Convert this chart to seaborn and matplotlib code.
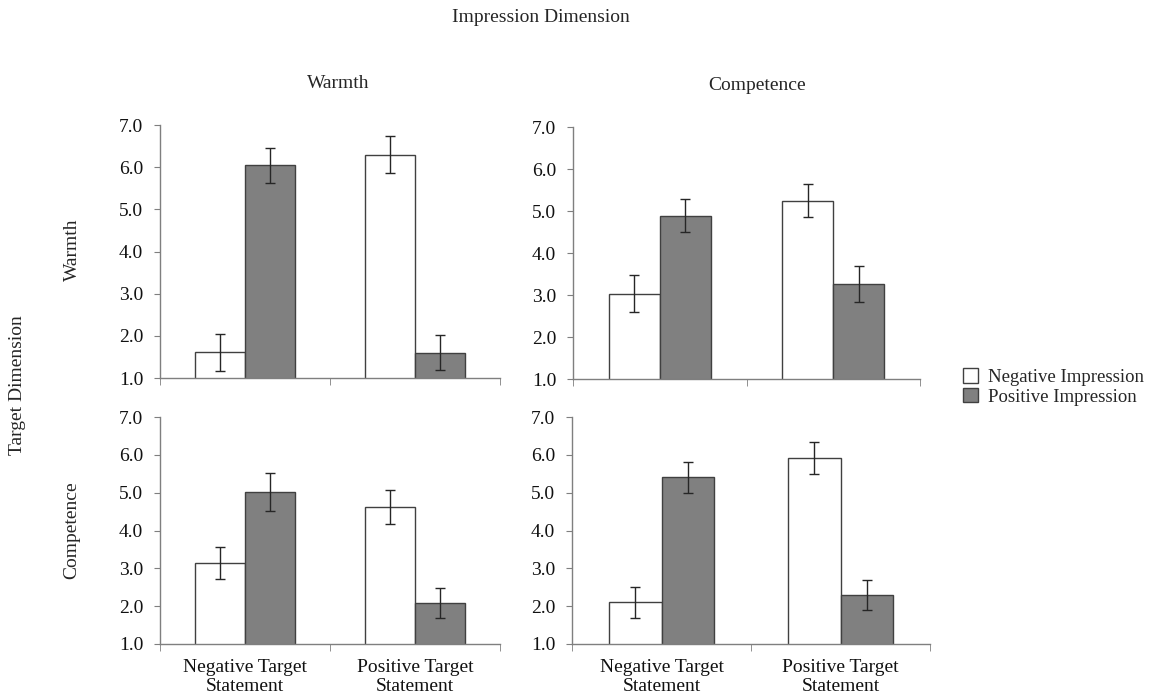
import pandas as pd
import matplotlib.pyplot as plt
import seaborn as sns
from matplotlib.patches import Patch

# --- data ---
statements = ['Negative Target\nStatement', 'Positive Target\nStatement']
impressions = ['Negative Impression', 'Positive Impression']

# panel order: (target, impression dimension)
warmth_warmth_mean = [1.61, 6.04, 6.30, 1.60]      # [neg-stmt neg-imp, neg-stmt pos-imp, pos-stmt neg-imp, pos-stmt pos-imp]
warmth_warmth_err = [0.44, 0.42, 0.44, 0.41]
warmth_comp_mean = [3.03, 4.89, 5.25, 3.26]
warmth_comp_err = [0.44, 0.39, 0.40, 0.42]
comp_warmth_mean = [3.14, 5.02, 4.63, 2.08]
comp_warmth_err = [0.43, 0.50, 0.45, 0.39]
comp_comp_mean = [2.10, 5.41, 5.92, 2.29]
comp_comp_err = [0.40, 0.41, 0.42, 0.40]

y_ticks = [1.0, 2.0, 3.0, 4.0, 5.0, 6.0, 7.0]

sns.set_style("white")
plt.rcParams['font.family'] = ['Liberation Serif', 'DejaVu Serif']
FS = 14

fig = plt.figure(figsize=(11.52, 6.99), dpi=100)

# axes positions in pixels: (left, top, right, bottom)
boxes = {
    'tl': (160, 125, 500, 378),
    'tr': (573, 127, 920, 379),
    'bl': (160, 417, 500, 644),
    'br': (572, 417, 930, 644),
}
W, H = 1152, 699

panels = [
    ('tl', warmth_warmth_mean, warmth_warmth_err, False),
    ('tr', warmth_comp_mean, warmth_comp_err, False),
    ('bl', comp_warmth_mean, comp_warmth_err, True),
    ('br', comp_comp_mean, comp_comp_err, True),
]

axis_col = '#7f7f7f'

for key, means, errs, show_x in panels:
    l, t, r, b = boxes[key]
    ax = fig.add_axes([l / W, 1 - b / H, (r - l) / W, (b - t) / H])
    df = pd.DataFrame({
        'statement': [statements[0], statements[0], statements[1], statements[1]],
        'impression': [impressions[0], impressions[1], impressions[0], impressions[1]],
        'mean': means,
        'err': errs,
    })
    sns.barplot(data=df, x='statement', y='mean', hue='impression',
                hue_order=impressions, order=statements,
                palette=['white', '#808080'], edgecolor='#404040',
                linewidth=1.0, width=0.59, errorbar=None, legend=False,
                saturation=1, ax=ax)
    # error bars at the bar centres
    bar_containers = list(ax.containers)
    for h, cont in enumerate(bar_containers):
        for i, bar in enumerate(cont):
            row = df[(df['impression'] == impressions[h]) & (df['statement'] == statements[i])].iloc[0]
            xc = bar.get_x() + bar.get_width() / 2
            ax.errorbar(xc, row['mean'], yerr=row['err'], fmt='none',
                        ecolor='#262626', elinewidth=1, capsize=3.3, capthick=1)
    ax.set_ylim(1.0, 7.0)
    ax.set_xlim(-0.5, 1.5)
    ax.set_yticks(y_ticks)
    ax.set_yticklabels([f'{v:.1f}' for v in y_ticks], fontsize=FS)
    ax.set_xlabel('')
    ax.set_ylabel('')
    for s in ['top', 'right']:
        ax.spines[s].set_visible(False)
    for s in ['left', 'bottom']:
        ax.spines[s].set_color(axis_col)
        ax.spines[s].set_linewidth(1)
    ax.tick_params(axis='y', length=4, color=axis_col, pad=8, left=True, labelcolor='#111111')
    ax.tick_params(axis='x', length=0, labelsize=FS, pad=11, labelcolor='#111111')
    ax.set_xticks([-0.5, 0.5, 1.5], minor=True)
    ax.tick_params(axis='x', which='minor', length=5, color=axis_col, bottom=True)
    if show_x:
        ax.set_xticklabels(statements, fontsize=FS, linespacing=1.15)
    else:
        ax.set_xticklabels([])

# titles and dimension labels
fig.text(541 / W, 1 - 18 / H, 'Impression Dimension', ha='center', va='center', fontsize=FS)
fig.text(338 / W, 1 - 83 / H, 'Warmth', ha='center', va='center', fontsize=FS)
fig.text(757 / W, 1 - 86 / H, 'Competence', ha='center', va='center', fontsize=FS)
fig.text(18 / W, 1 - 385 / H, 'Target Dimension', ha='center', va='center', rotation=90, fontsize=FS)
fig.text(72 / W, 1 - 250 / H, 'Warmth', ha='center', va='center', rotation=90, fontsize=FS)
fig.text(72 / W, 1 - 530 / H, 'Competence', ha='center', va='center', rotation=90, fontsize=FS)

handles = [Patch(facecolor='white', edgecolor='#404040', linewidth=1),
           Patch(facecolor='#808080', edgecolor='#404040', linewidth=1)]
fig.legend(handles, impressions, loc='center left', bbox_to_anchor=(954 / W, 1 - 387 / H),
           frameon=False, fontsize=13.5, handlelength=0.8, handleheight=0.8,
           handletextpad=0.5, labelspacing=0.1, borderpad=0)

fig.savefig('out.png', dpi=100, facecolor='white')
